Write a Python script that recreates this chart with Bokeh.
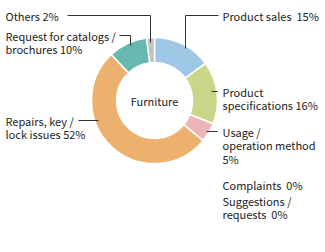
import numpy as np
from bokeh.plotting import figure
from bokeh.models import Range1d, ColumnDataSource
from bokeh.core.properties import value
from bokeh.embed import file_html
from bokeh.resources import INLINE

categories = ["Product sales", "Product specifications", "Usage / operation method",
              "Complaints", "Suggestions / requests", "Repairs, key / lock issues",
              "Request for catalogs / brochures", "Others"]
shares = [15, 16, 5, 0, 0, 52, 10, 2]
colors = ["#9ec7e6", "#c9d588", "#edb5ba", "#e8a0a0", "#a0a0d0", "#ecb06f", "#66b8b1", "#c2c2c2"]
center_label = "Furniture"

W, H = 325, 252
FONT = "Noto Sans CJK JP"
NB = "\u00a0"

def Y(v):
    return H - v

p = figure(width=W, height=H, output_backend="svg", toolbar_location=None,
           x_range=Range1d(0, W), y_range=Range1d(0, H), min_border=0)
p.axis.visible = False
p.grid.visible = False
p.outline_line_color = None
p.background_fill_color = "white"

cx, cy = 154, Y(100)
tot = float(sum(shares))
cum = np.concatenate([[0], np.cumsum(shares)]) / tot
starts = np.pi / 2 - 2 * np.pi * cum[:-1]
ends = np.pi / 2 - 2 * np.pi * cum[1:]
keep = [i for i, s in enumerate(shares) if s > 0]
src = ColumnDataSource(dict(
    start=[starts[i] for i in keep], end=[ends[i] for i in keep],
    color=[colors[i] for i in keep]))
p.annular_wedge(x=cx, y=cy, inner_radius=38, outer_radius=63,
                start_angle="end", end_angle="start", direction="anticlock",
                fill_color="color", line_color="white", line_width=1.5, source=src)

p.text(x=[cx], y=[cy], text=[center_label], text_font=value(FONT),
       text_font_size="11px", text_align="center", text_baseline="middle",
       text_color="#222222")

# leader lines (screen layout)
lines_x = [[67, 150, 150], [218, 185, 185], [119, 130, 130], [211, 217], [78, 98], [206, 217]]
lines_y = [[15, 15, 42], [15, 15, 48], [35, 35, 45], [91, 91], [120, 120], [131, 131]]
p.multi_line(xs=lines_x, ys=[[Y(v) for v in ys] for ys in lines_y],
             line_color="#333333", line_width=1)

labels = [
    (5, 15, "Others 2%"),
    (222, 15, "Product sales " + NB + "15%"),
    (5, 35, "Request for catalogs /"),
    (5, 48, "brochures 10%"),
    (222, 91, "Product"),
    (222, 104, "specifications 16%"),
    (5, 120, "Repairs, key /"),
    (5, 133, "lock issues 52%"),
    (222, 131, "Usage /"),
    (222, 144, "operation method"),
    (222, 158, "5%"),
    (222, 184, "Complaints " + NB + "0%"),
    (222, 200, "Suggestions /"),
    (222, 213, "requests " + NB + "0%"),
]
p.text(x=[l[0] for l in labels], y=[Y(l[1]) for l in labels], text=[l[2] for l in labels],
       text_font=value(FONT), text_font_size="11px", text_align="left",
       text_baseline="middle", text_color="#222222")

open("out.html", "w").write(file_html(p, INLINE))
